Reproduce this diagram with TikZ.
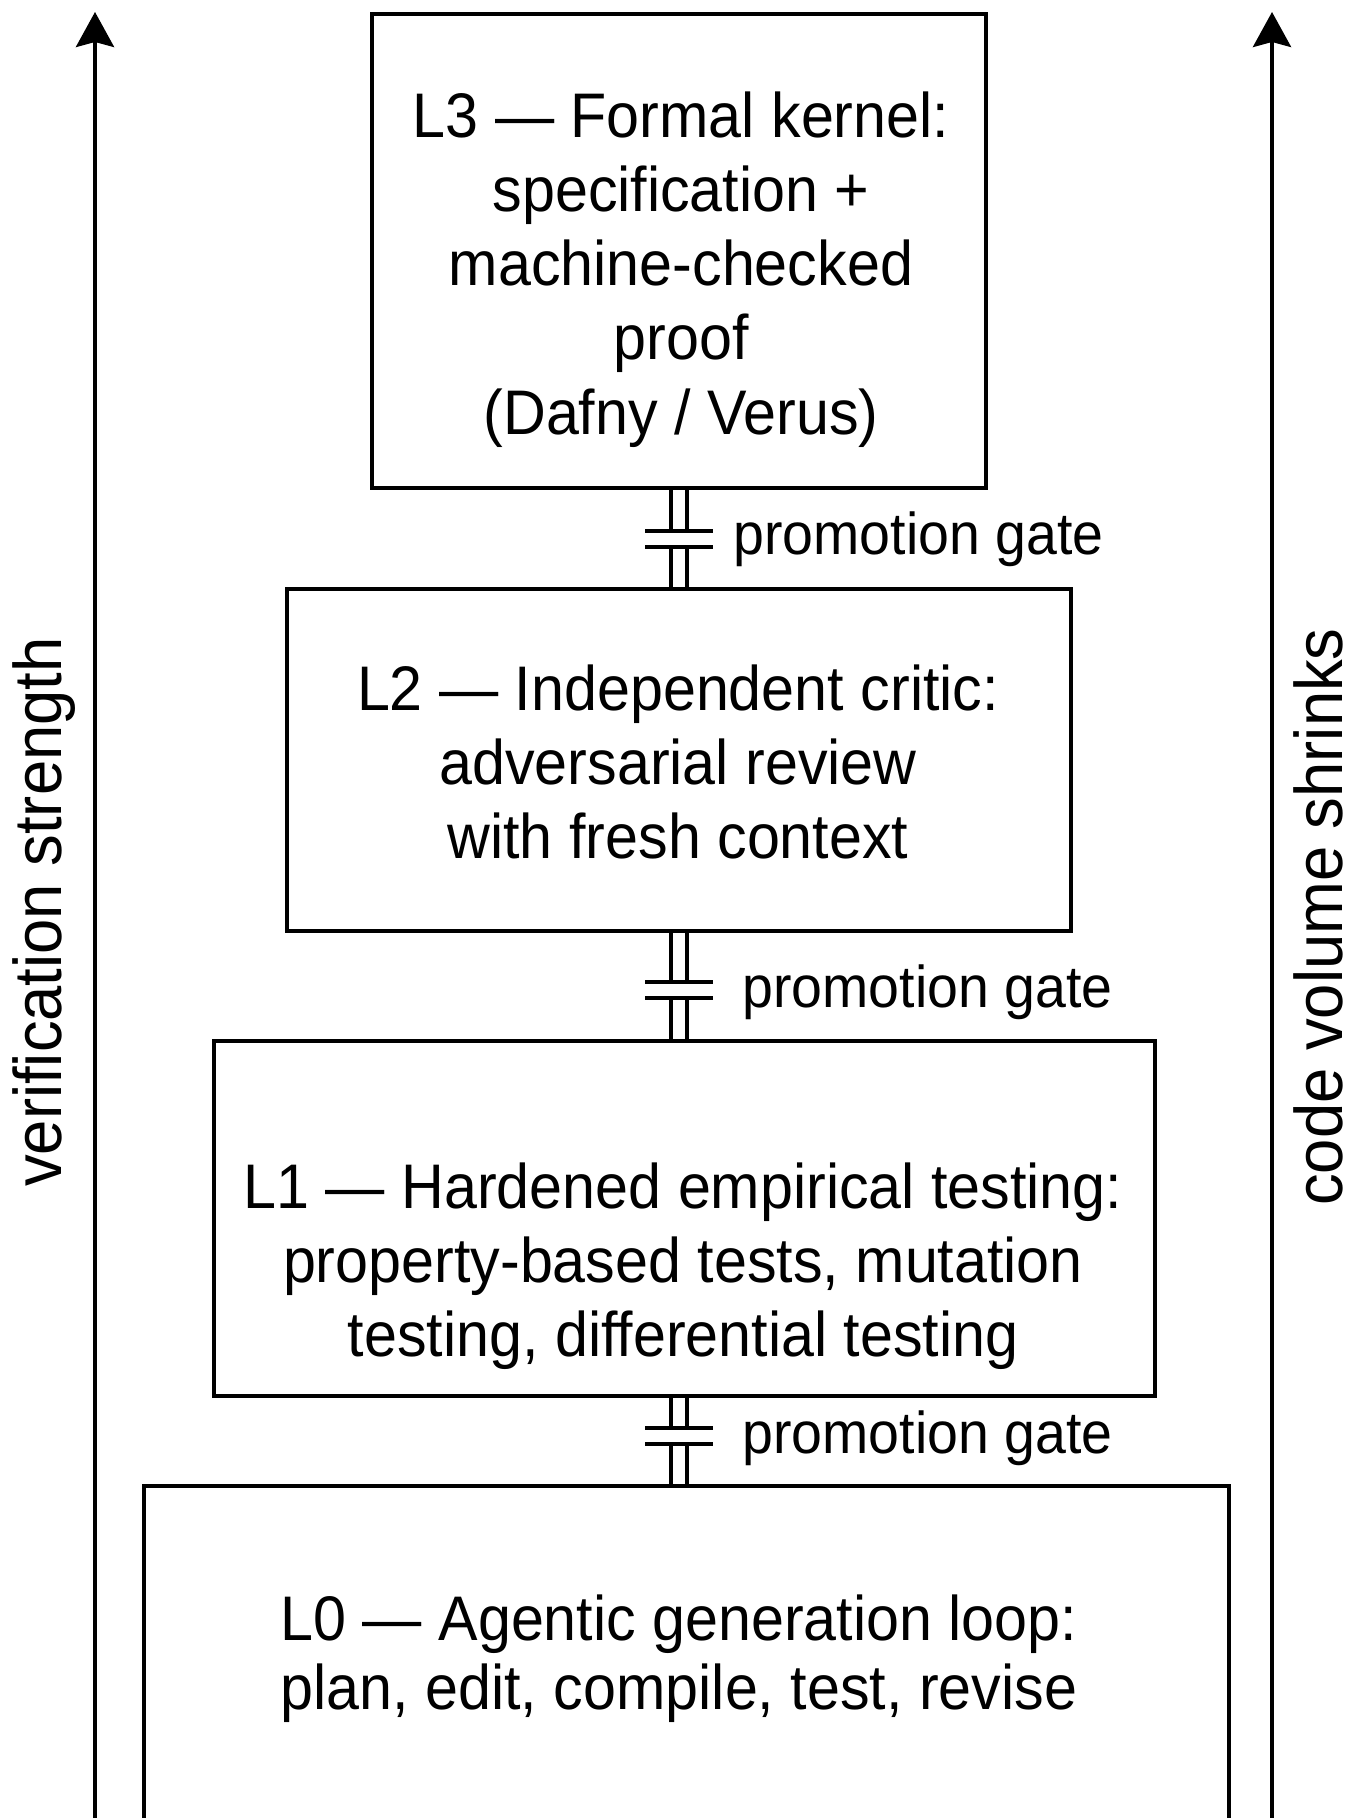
\documentclass[tikz,border=0pt]{standalone}
\usepackage{fontspec}
\setmainfont{Liberation Sans}[FakeStretch=0.94]
\usetikzlibrary{arrows.meta}
\begin{document}
\begin{tikzpicture}[x=0.5pt,y=-0.5pt,
  levelbox/.style={draw=black,line width=2pt,fill=white,inner sep=0pt,outer sep=0pt},
  leveltext/.style={inner sep=0pt,align=center,font=\fontsize{31.5}{37.1}\selectfont},
  gatetext/.style={inner sep=0pt,anchor=west,font=\fontsize{29.5}{34}\selectfont},
  sidetext/.style={inner sep=0pt,rotate=90,font=\fontsize{33.7}{40}\selectfont},
  gateline/.style={line width=1.8pt},
  axis/.style={line width=2pt,-{Stealth[length=17.5pt,width=19pt,inset=2.5pt]}}]
  \useasboundingbox[fill=white] (0,0) rectangle (1355,1818);

  % side axes
  \coordinate (la0) at (95,1900);
  \coordinate (la1) at (95,12);
  \coordinate (ra0) at (1272,1900);
  \coordinate (ra1) at (1272,12);
  \draw[axis] (la0) -- (la1);
  \draw[axis] (ra0) -- (ra1);
  \node[sidetext] (vs) at (44,912) {verification strength};
  \node[sidetext] (cv) at (1318,917) {code volume shrinks};

  % level boxes
  \node[levelbox,minimum width=307pt,minimum height=237pt] (L3) at (679,251) {};
  \node[levelbox,minimum width=392pt,minimum height=171pt] (L2) at (679,760) {};
  \node[levelbox,minimum width=470.5pt,minimum height=177.5pt] (L1) at (684.5,1218.5) {};
  \node[levelbox,minimum width=542.5pt,minimum height=207pt] (L0) at (686.5,1693) {};

  \node[leveltext] (t3) at (681,269.5) {L3 — Formal kernel:\\specification +\\machine-checked\\proof\\(Dafny / Verus)};
  \node[leveltext] (t2) at (678,762) {L2 — Independent critic:\\adversarial review\\with fresh context};
  \node[leveltext] (t1) at (683,1266) {L1 — Hardened empirical testing:\\property-based tests, mutation\\testing, differential testing};
  \node[leveltext,font=\fontsize{31.5}{34.5}\selectfont] (t0) at (679,1659) {L0 — Agentic generation loop:\\plan, edit, compile, test, revise};

  % promotion gates
  \coordinate (g1) at (679,539);
  \coordinate (g2) at (679,990);
  \coordinate (g3) at (679,1436);
  \foreach \up/\lo/\g in {L3/L2/g1, L2/L1/g2, L1/L0/g3} {
    \draw[gateline] ([xshift=-4pt]\g |- \up.south) -- ([xshift=-4pt,yshift=4pt]\g);
    \draw[gateline] ([xshift=4pt]\g |- \up.south) -- ([xshift=4pt,yshift=4pt]\g);
    \draw[gateline] ([xshift=-4pt]\g |- \lo.north) -- ([xshift=-4pt,yshift=-4pt]\g);
    \draw[gateline] ([xshift=4pt]\g |- \lo.north) -- ([xshift=4pt,yshift=-4pt]\g);
    \draw[gateline] ([xshift=-17pt,yshift=4pt]\g) -- ([xshift=17pt,yshift=4pt]\g);
    \draw[gateline] ([xshift=-17pt,yshift=-4pt]\g) -- ([xshift=17pt,yshift=-4pt]\g);
  }
  \node[gatetext] (p1) at (733,539) {promotion gate};
  \node[gatetext] (p2) at (742,992) {promotion gate};
  \node[gatetext] (p3) at (742,1438) {promotion gate};
\end{tikzpicture}
\end{document}
